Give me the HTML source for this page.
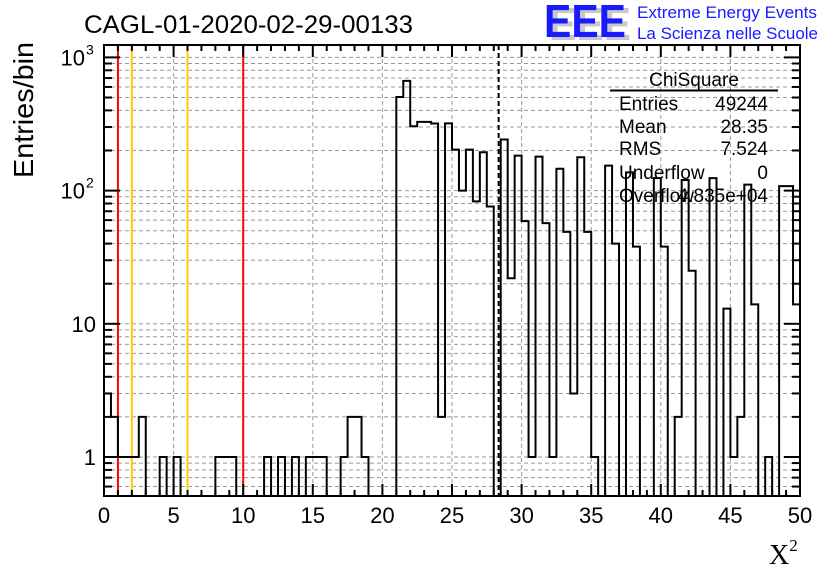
<!DOCTYPE html>
<html><head><meta charset="utf-8">
<style>
html,body{margin:0;padding:0;background:#fff;}
svg{display:block;font-family:"Liberation Sans",sans-serif;}
</style></head>
<body>
<svg id="chart" width="836" height="572" viewBox="0 0 836 572" xmlns="http://www.w3.org/2000/svg">
  <rect width="836" height="572" fill="#fff"/>
  <g id="grid"></g>
  <g id="vlines"></g>
  <g id="hist"></g>
  <g id="axes"></g>
  <text x="84" y="33" font-size="25" textLength="329" lengthAdjust="spacingAndGlyphs">CAGL-01-2020-02-29-00133</text>
  <text transform="translate(33,110) rotate(-90)" text-anchor="middle" font-size="28" textLength="136" lengthAdjust="spacingAndGlyphs">Entries/bin</text>
  <text x="769" y="564" font-family="'Liberation Serif',serif" font-size="28">X<tspan font-size="17" dy="-13">2</tspan></text>
  <g>
    <text x="549" y="40" font-size="46" font-weight="bold" fill="#c8c8c8" textLength="82" lengthAdjust="spacingAndGlyphs">EEE</text>
    <text x="544" y="37" font-size="46" font-weight="bold" fill="#1a1aff" textLength="82" lengthAdjust="spacingAndGlyphs">EEE</text>
    <text x="637" y="18" font-size="17" fill="#1a1aff" textLength="180" lengthAdjust="spacingAndGlyphs">Extreme Energy Events</text>
    <text x="637" y="39" font-size="17" fill="#1a1aff" textLength="181" lengthAdjust="spacingAndGlyphs">La Scienza nelle Scuole</text>
  </g>
  <g font-size="19">
    <text x="694" y="86" text-anchor="middle">ChiSquare</text>
    <line x1="610" y1="90.5" x2="778" y2="90.5" stroke="#000" stroke-width="2"/>
    <text x="619" y="110">Entries</text><text x="768" y="110" text-anchor="end">49244</text>
    <text x="619" y="133">Mean</text><text x="768" y="133" text-anchor="end">28.35</text>
    <text x="619" y="155">RMS</text><text x="768" y="155" text-anchor="end">7.524</text>
    <text x="619" y="179">Underflow</text><text x="768" y="179" text-anchor="end">0</text>
    <text x="619" y="202">Overflow</text><text x="768" y="202" text-anchor="end">4.835e+04</text>
  </g>
</svg>
<script>
const counts = [3,2,1,1,1,2,0,0,1,0, 1,0,0,0,0,0,1,1,1,0, 0,0,0,1,0,1,0,1,0,1, 1,1,0,0,1,2,2,1,0,0,
  0,0,504,666,304,328,328,319,2,320, 203,100,203,83,194,76,0,242,22,183, 59,1,180,57,1,146,49,3,178,49,
  1,0,154,40,0,137,38,0,0,124, 38,0,2,120,25,0,0,124,0,13, 1,2,111,14,0,1,0,108,108,14];
const xMin = 0, xMax = 50, binWidth = 0.5;
const xTicks = [0,5,10,15,20,25,30,35,40,45,50];
const yDecades = [1,10,100,1000];
const yTickLabels = ["1","10","10","10"];
const yTickSup = ["","","2","3"];
const redLines = [1,10];
const yellowLines = [2,6];
const meanValue = 28.35;

const L=104,R=800,T=45,B=496;
const NS="http://www.w3.org/2000/svg";
function sx(v){return L+(v-xMin)/(xMax-xMin)*(R-L);}
function sy(v){ if(v<=0) return B; const y=457-133.2*Math.log10(v); return Math.min(B,Math.max(T,y)); }
function mk(tag,attrs,parent){const e=document.createElementNS(NS,tag);for(const k in attrs)e.setAttribute(k,attrs[k]);parent.appendChild(e);return e;}

const grid=document.getElementById('grid');
for(const t of xTicks){ if(t===xMin||t===xMax) continue;
  const l=mk('line',{x1:sx(t),x2:sx(t),y1:T,y2:B,stroke:'#999','stroke-width':1,'stroke-dasharray':'4,3'},grid);
  
  
}
for(const d of yDecades){ for(let m=1;m<=9;m++){ const v=d*m; const y=sy(v); if(y<=T+1||y>=B-1) continue;
  const l=mk('line',{x1:L,x2:R,y1:y,y2:y,stroke:'#999','stroke-width':1,'stroke-dasharray':'4,3'},grid);
  
  
}}
for(const v of [0.6,0.7,0.8,0.9]){const y=sy(v);
  const l=mk('line',{x1:L,x2:R,y1:y,y2:y,stroke:'#999','stroke-width':1,'stroke-dasharray':'4,3'},grid);
  
  
}

const vl=document.getElementById('vlines');
for(const v of redLines){const l=mk('line',{x1:sx(v),x2:sx(v),y1:T,y2:B,stroke:'#ff0000','stroke-width':2},vl);
  
  }
for(const v of yellowLines){const l=mk('line',{x1:sx(v),x2:sx(v),y1:T,y2:B,stroke:'#ffcc00','stroke-width':2},vl);
  
  }
const ml=mk('line',{x1:sx(meanValue),x2:sx(meanValue),y1:T,y2:B,stroke:'#000','stroke-width':2,'stroke-dasharray':'5,3'},vl);



const h=document.getElementById('hist');
let d='M'+sx(xMin)+','+B;
counts.forEach((c,i)=>{const x0=sx(xMin+i*binWidth),x1=sx(xMin+(i+1)*binWidth),y=sy(c);
  d+=' L'+x0+','+y+' L'+x1+','+y;});
d+=' L'+sx(xMax)+','+B;
const p=mk('path',{d:d,fill:'none',stroke:'#000','stroke-width':2,'stroke-linejoin':'miter'},h);



const ax=document.getElementById('axes');
const fr=mk('rect',{x:L,y:T,width:R-L,height:B-T,fill:'none',stroke:'#000','stroke-width':2},ax);


for(let v=xMin;v<=xMax;v+=1){const major=(v%5===0);const x=sx(v);const len=major?12:6;
  const a=mk('line',{x1:x,x2:x,y1:B,y2:B-len,stroke:'#000','stroke-width':2},ax);
  
  
  const b=mk('line',{x1:x,x2:x,y1:T,y2:T+len,stroke:'#000','stroke-width':2},ax);
  
  
}
xTicks.forEach(t=>{const tx=mk('text',{x:sx(t),y:523,'text-anchor':'middle','font-size':'22'},ax);tx.textContent=String(t);
  
  });
const allY=[0.6,0.7,0.8,0.9];
yDecades.forEach(dd=>{for(let m=1;m<=9;m++)allY.push(dd*m);});
allY.forEach(v=>{const y=sy(v);if(y<=T||y>=B)return;const major=yDecades.includes(v);const len=major?16:8;
  const a=mk('line',{x1:L,x2:L+len,y1:y,y2:y,stroke:'#000','stroke-width':2},ax);
  
  
  const b=mk('line',{x1:R,x2:R-len,y1:y,y2:y,stroke:'#000','stroke-width':2},ax);
  
  
});
yDecades.forEach((v,i)=>{const y=sy(v);const sup=yTickSup[i];
  const tx=mk('text',{x:sup?85:96,y:y+8,'text-anchor':'end','font-size':'22'},ax);tx.textContent=yTickLabels[i];
  
  
  if(sup){const s=mk('text',{x:86,y:y-3,'font-size':'14'},ax);s.textContent=sup;
    
    }
});
</script>
</body></html>
